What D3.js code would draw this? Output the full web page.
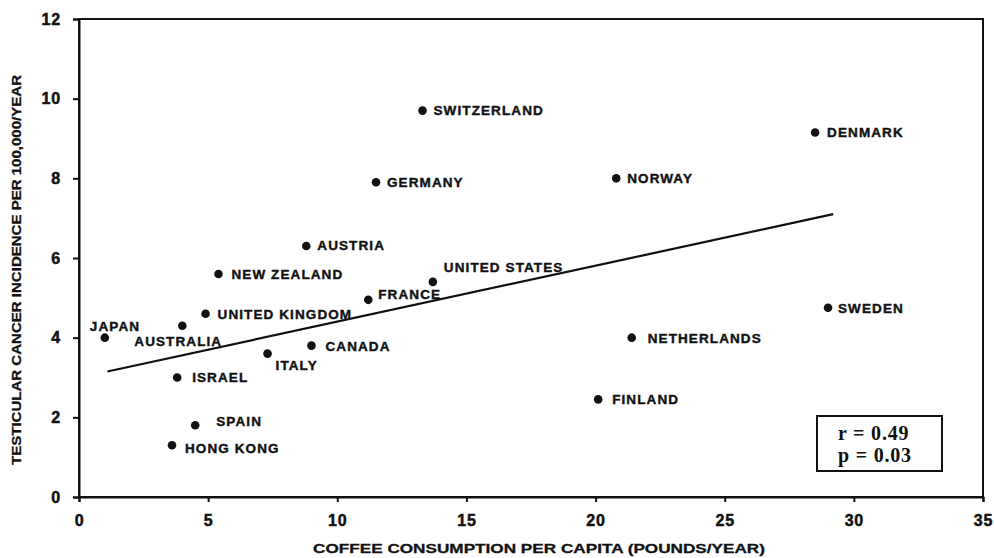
<!DOCTYPE html>
<html><head><meta charset="utf-8">
<script src="https://cdn.jsdelivr.net/npm/d3@7"></script>
<style>body{margin:0;background:#fff}</style></head>
<body><svg id="c" width="994" height="558"></svg>
<script>
// ---- data ----
const countries = ["JAPAN","AUSTRALIA","ISRAEL","SPAIN","HONG KONG","UNITED KINGDOM","NEW ZEALAND","ITALY","AUSTRIA","CANADA","FRANCE","UNITED STATES","GERMANY","SWITZERLAND","NORWAY","FINLAND","NETHERLANDS","DENMARK","SWEDEN"];
const coffee    = [1.0, 4.0, 3.8, 4.5, 3.6, 4.9, 5.4, 7.3, 8.8, 9.0, 11.2, 13.7, 11.5, 13.3, 20.8, 20.1, 21.4, 28.5, 29.0];
const incidence = [4.0, 4.3, 3.0, 1.8, 1.3, 4.6, 5.6, 3.6, 6.3, 3.8, 4.95, 5.4, 7.9, 9.7, 8.0, 2.45, 4.0, 9.15, 4.75];
const xTicks = [0,5,10,15,20,25,30,35];
const yTicks = [0,2,4,6,8,10,12];
const trendX = [1.1, 29.2];
const trendY = [3.15, 7.1];
const statLines = ["r = 0.49", "p = 0.03"];
const xTitle = "COFFEE CONSUMPTION PER CAPITA (POUNDS/YEAR)";
const yTitle = "TESTICULAR CANCER INCIDENCE PER 100,000/YEAR";

// ---- label layout (dx to text start, dy to text centre, px) ----
const labelOffset = {
  "JAPAN":[-15,-12],"AUSTRALIA":[-48,15],"ISRAEL":[15,0],"SPAIN":[21,-4],"HONG KONG":[13,3],
  "UNITED KINGDOM":[12,0],"NEW ZEALAND":[13,0],"ITALY":[8,12],"AUSTRIA":[11,-1],"CANADA":[14,1],
  "FRANCE":[10,-6],"UNITED STATES":[11,-15],"GERMANY":[11,0],"SWITZERLAND":[11,0],"NORWAY":[11,0],
  "FINLAND":[14,0],"NETHERLANDS":[16,0],"DENMARK":[12,0],"SWEDEN":[10,0]
};

const svg = d3.select("#c");
const L=79, R=983, T=19, B=497;
const x = d3.scaleLinear().domain([0,35]).range([L,R]);
const y = d3.scaleLinear().domain([0,12]).range([B,T]);
const ink = "#111";
const font = "'Liberation Sans', Arial, sans-serif";

// frame
svg.append("rect").attr("x",L).attr("y",T).attr("width",R-L).attr("height",B-T)
  .attr("fill","none").attr("stroke",ink).attr("stroke-width",2);

// axes
const gx = svg.append("g").attr("transform",`translate(0,${B})`)
  .call(d3.axisBottom(x).tickValues(xTicks).tickSize(5).tickPadding(13).tickFormat(d3.format("d")));
const gy = svg.append("g").attr("transform",`translate(${L},0)`)
  .call(d3.axisLeft(y).tickValues(yTicks).tickSize(6).tickPadding(12).tickFormat(d3.format("d")));
[gx,gy].forEach(g=>{
  g.select(".domain").attr("stroke",ink).attr("stroke-width",2);
  g.selectAll(".tick line").attr("stroke",ink).attr("stroke-width",2);
  g.selectAll(".tick text").attr("fill",ink).attr("font-family",font).attr("font-weight","bold")
    .attr("font-size",16).attr("letter-spacing",0.8)
    .attr("stroke",ink).attr("stroke-width",0.5);
});

// trend line
svg.append("path").datum(trendX.map((d,i)=>[d,trendY[i]]))
  .attr("d", d3.line().x(d=>x(d[0])).y(d=>y(d[1])))
  .attr("stroke",ink).attr("stroke-width",2.2).attr("fill","none");

// points
const pts = countries.map((c,i)=>({c, xv:coffee[i], yv:incidence[i]}));
svg.append("g").selectAll("circle").data(pts).join("circle")
  .attr("cx",d=>x(d.xv)).attr("cy",d=>y(d.yv)).attr("r",4.3).attr("fill",ink);
svg.append("g").selectAll("text").data(pts).join("text")
  .attr("x",d=>x(d.xv)+labelOffset[d.c][0])
  .attr("y",d=>y(d.yv)+labelOffset[d.c][1])
  .attr("dy","0.36em")
  .attr("font-family",font).attr("font-weight","bold").attr("font-size",13.5)
  .attr("letter-spacing",1.1).attr("fill",ink)
  .attr("stroke",ink).attr("stroke-width",0.4)
  .text(d=>d.c);

// axis titles
svg.append("text").attr("x",539).attr("y",553).attr("text-anchor","middle")
  .attr("font-family",font).attr("font-weight","bold").attr("font-size",13)
  .attr("stroke",ink).attr("stroke-width",0.3)
  .attr("textLength",452).attr("lengthAdjust","spacingAndGlyphs").attr("fill",ink).text(xTitle);
svg.append("text").attr("transform","translate(21,270) rotate(-90)").attr("text-anchor","middle")
  .attr("font-family",font).attr("font-weight","bold").attr("font-size",12.5)
  .attr("stroke",ink).attr("stroke-width",0.3)
  .attr("textLength",390).attr("lengthAdjust","spacingAndGlyphs").attr("fill",ink).text(yTitle);

// stats box
svg.append("rect").attr("x",817).attr("y",416).attr("width",125).attr("height",55)
  .attr("fill","#fff").attr("stroke",ink).attr("stroke-width",2);
svg.append("g").selectAll("text").data(statLines).join("text")
  .attr("x",838).attr("y",(d,i)=>433+i*22).attr("dy","0.36em")
  .attr("font-family","'Liberation Serif', 'Times New Roman', serif").attr("font-weight","bold")
  .attr("font-size",20).attr("letter-spacing",0.8).attr("fill",ink).text(d=>d);
</script>
</body></html>
